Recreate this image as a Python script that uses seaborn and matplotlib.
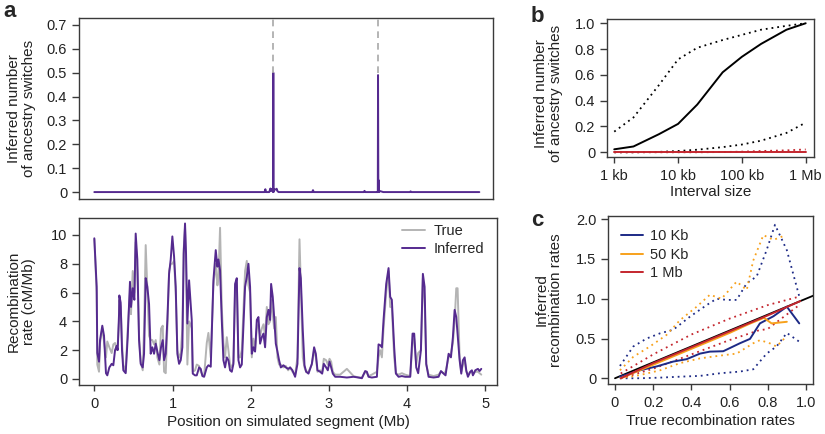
import numpy as np
import pandas as pd
import matplotlib
matplotlib.use("Agg")
import matplotlib.pyplot as plt
import seaborn as sns

# ---------------- data ----------------
# panel a (top): inferred number of ancestry switches along the segment
switch_pos = [0.0, 2.15, 2.18, 2.19, 2.20, 2.24, 2.255, 2.26, 2.27, 2.285, 2.29, 2.292, 2.295,
              2.30, 2.31, 2.33, 2.335, 2.345, 2.36, 2.70, 2.79, 2.80, 2.81, 3.45, 3.46, 3.47,
              3.62, 3.63, 3.633, 3.637, 3.64, 3.645, 3.66, 3.70, 4.04, 4.05, 4.06, 4.93]
switch_val = [0.0, 0.0, 0.0, 0.012, 0.0, 0.0, 0.015, 0.004, 0.012, 0.003, 0.0, 0.50, 0.0,
              0.012, 0.010, 0.012, 0.014, 0.004, 0.0, 0.0, 0.0, 0.008, 0.0, 0.0, 0.005, 0.0,
              0.0, 0.0, 0.49, 0.0, 0.05, 0.0, 0.004, 0.0, 0.0, 0.003, 0.0, 0.0]
true_switches = [2.292, 3.633]

# panel a (bottom): recombination rate (cM/Mb)
pos_mb = [0.000, 0.030, 0.038, 0.060, 0.073, 0.102, 0.124, 0.149, 0.166, 0.192, 0.222, 0.243,
          0.265, 0.286, 0.299, 0.316, 0.320, 0.337, 0.354, 0.371, 0.401, 0.427, 0.456, 0.469,
          0.491, 0.512, 0.529, 0.550, 0.572, 0.593, 0.619, 0.636, 0.657, 0.678, 0.700, 0.721,
          0.742, 0.764, 0.785, 0.806, 0.832, 0.853, 0.875, 0.892, 0.913, 0.934, 0.956, 0.977,
          0.998, 1.020, 1.041, 1.062, 1.084, 1.105, 1.126, 1.143, 1.160, 1.173, 1.190, 1.212,
          1.229, 1.246, 1.259, 1.288, 1.310, 1.340, 1.361, 1.382, 1.404, 1.438, 1.459, 1.489,
          1.523, 1.553, 1.574, 1.587, 1.608, 1.630, 1.651, 1.672, 1.694, 1.715, 1.736, 1.758,
          1.779, 1.800, 1.822, 1.843, 1.864, 1.886, 1.928, 1.950, 1.971, 1.992, 2.014, 2.035,
          2.056, 2.078, 2.099, 2.120, 2.142, 2.163, 2.184, 2.206, 2.227, 2.248, 2.261, 2.282,
          2.300, 2.321, 2.342, 2.363, 2.385, 2.419, 2.449, 2.479, 2.504, 2.534, 2.568, 2.598,
          2.624, 2.641, 2.666, 2.688, 2.709, 2.739, 2.782, 2.811, 2.833, 2.854, 2.888, 2.914,
          2.935, 2.965, 2.986, 3.008, 3.029, 3.050, 3.080, 3.144, 3.230, 3.315, 3.379, 3.422,
          3.464, 3.486, 3.507, 3.549, 3.614, 3.635, 3.656, 3.678, 3.699, 3.733, 3.763, 3.784,
          3.805, 3.835, 3.857, 3.891, 3.933, 3.976, 4.040, 4.070, 4.091, 4.117, 4.142, 4.177,
          4.202, 4.224, 4.245, 4.275, 4.339, 4.403, 4.433, 4.467, 4.492, 4.531, 4.561, 4.586,
          4.608, 4.629, 4.646, 4.672, 4.693, 4.714, 4.736, 4.757, 4.778, 4.808, 4.829, 4.842,
          4.872, 4.906, 4.927, 4.949]
rate_inferred = [9.77, 6.4, 1.8, 1.2, 2.7, 3.7, 3.0, 0.4, 0.25, 0.8, 1.05, 0.95,
                 2.0, 2.3, 2.0, 4.5, 5.8, 5.3, 2.0, 0.6, 0.4, 2.9, 6.75, 5.0,
                 6.3, 5.5, 10.1, 8.3, 2.7, 1.05, 0.8, 1.75, 7.0, 6.4, 5.2, 1.75,
                 2.2, 1.75, 2.45, 1.9, 1.3, 2.2, 2.7, 1.3, 1.75, 4.1, 7.3, 8.3,
                 9.9, 8.5, 6.4, 1.75, 1.05, 1.3, 2.2, 8.7, 10.8, 8.7, 3.85, 6.85,
                 5.5, 4.1, 0.37, 0.25, 0.25, 0.8, 0.7, 0.2, 0.15, 0.8, 0.95, 0.85,
                 6.85, 8.95, 7.8, 8.3, 7.55, 4.1, 1.3, 0.8, 1.5, 1.3, 0.6, 0.5,
                 1.05, 6.6, 7.0, 1.3, 0.8, 1.0, 6.4, 7.1, 8.0, 6.4, 1.75, 2.2,
                 1.9, 4.1, 4.3, 2.45, 2.9, 3.15, 2.2, 4.3, 4.8, 4.1, 6.6, 5.7,
                 4.3, 2.45, 1.9, 1.3, 0.8, 0.95, 0.8, 0.7, 0.8, 0.6, 0.15, 1.05,
                 7.7, 7.0, 3.4, 0.95, 0.5, 0.37, 1.05, 2.2, 1.75, 0.6, 0.5, 0.37,
                 1.05, 0.8, 0.6, 1.2, 0.8, 0.37, 0.15, 0.15, 0.1, 0.15, 0.1, 0.05,
                 0.55, 0.5, 0.15, 0.1, 0.15, 2.4, 2.35, 2.2, 4.1, 6.6, 7.7, 5.7,
                 5.5, 2.2, 0.37, 0.15, 0.2, 0.15, 0.15, 3.15, 3.15, 0.8, 0.4, 2.0,
                 7.3, 6.4, 1.05, 0.15, 0.1, 0.15, 0.55, 0.37, 0.25, 1.75, 1.5, 2.9,
                 4.8, 4.3, 3.15, 1.3, 0.37, 1.3, 1.5, 0.6, 0.15, 0.5, 0.6, 0.25,
                 0.6, 0.7, 0.55, 0.7]
rate_true = [9.7, 6.0, 1.0, 0.5, 2.5, 3.5, 2.6, 1.5, 2.6, 2.2, 1.8, 2.4,
             2.5, 2.0, 2.4, 4.0, 5.5, 5.0, 2.5, 1.0, 0.5, 3.5, 6.0, 4.5,
             7.5, 6.0, 9.5, 7.5, 3.0, 1.2, 0.6, 3.5, 9.3, 6.2, 3.0, 2.7,
             2.7, 2.4, 2.7, 1.5, 1.0, 3.5, 3.7, 0.5, 0.4, 3.5, 7.5, 8.0,
             8.0, 8.2, 6.0, 2.0, 1.5, 1.8, 3.5, 9.0, 10.5, 8.0, 1.0, 4.0,
             3.8, 3.5, 0.5, 0.6, 1.0, 0.9, 0.5, 0.3, 0.2, 2.5, 3.2, 1.5,
             6.5, 8.0, 6.5, 7.0, 10.5, 5.0, 2.5, 1.5, 2.9, 2.0, 1.0, 0.8,
             1.2, 6.0, 6.8, 1.5, 1.5, 2.0, 7.5, 8.2, 6.5, 6.0, 1.5, 2.8,
             2.0, 3.5, 3.8, 3.0, 3.5, 3.8, 3.0, 5.0, 3.8, 4.0, 5.5, 4.5,
             3.5, 4.3, 1.5, 1.0, 1.0, 0.8, 0.9, 0.6, 0.8, 0.5, 0.3, 1.5,
             9.7, 6.5, 1.5, 0.8, 0.5, 0.5, 1.0, 2.0, 1.5, 0.5, 0.6, 0.5,
             1.4, 1.3, 1.0, 1.4, 1.2, 0.5, 0.3, 0.3, 0.7, 0.2, 0.1, 0.1,
             0.5, 0.4, 0.2, 0.3, 0.5, 1.5, 2.0, 1.5, 3.5, 6.0, 7.5, 5.0,
             5.0, 1.5, 0.4, 0.3, 0.4, 0.3, 0.2, 2.5, 2.8, 1.0, 1.8, 2.0,
             7.0, 5.5, 1.0, 0.3, 0.2, 0.3, 0.5, 0.4, 0.5, 1.5, 1.8, 2.5,
             4.0, 6.3, 6.3, 1.5, 0.5, 1.0, 1.3, 0.5, 0.3, 0.5, 0.5, 0.3,
             0.5, 0.5, 0.4, 0.3]

# panel b: switches vs interval size (kb)
interval_kb = [1, 2, 5, 10, 20, 50, 100, 200, 500, 1000]
b_mean = [0.023, 0.045, 0.14, 0.22, 0.37, 0.62, 0.74, 0.84, 0.95, 1.0]
b_upper = [0.16, 0.27, 0.52, 0.72, 0.81, 0.87, 0.91, 0.95, 0.98, 1.0]
b_lower = [0.0, 0.0, 0.003, 0.01, 0.02, 0.04, 0.06, 0.09, 0.15, 0.23]
b_red_mean = [0.002, 0.002, 0.002, 0.002, 0.002, 0.002, 0.002, 0.002, 0.002, 0.002]
b_red_upper = [0.0, 0.0, 0.0, 0.0, 0.0, 0.002, 0.005, 0.01, 0.015, 0.022]

# panel c: inferred vs true recombination rates
diag_x = [0.0, 1.1]
c10_x = [0.026, 0.13, 0.22, 0.305, 0.375, 0.445, 0.497, 0.567, 0.654, 0.707, 0.759, 0.83, 0.9, 0.965]
c10_mean = [0.02, 0.10, 0.15, 0.21, 0.24, 0.31, 0.335, 0.34, 0.44, 0.495, 0.69, 0.78, 0.90, 0.69]
c10_up_x = [0.026, 0.096, 0.166, 0.236, 0.305, 0.393, 0.48, 0.532, 0.585, 0.637, 0.69, 0.742, 0.794, 0.838, 0.9, 0.965]
c10_up = [0.155, 0.40, 0.50, 0.565, 0.61, 0.775, 0.92, 1.0, 0.985, 0.985, 1.195, 1.28, 1.61, 1.93, 1.61, 1.03]
c10_lo_x = [0.026, 0.13, 0.236, 0.34, 0.445, 0.55, 0.654, 0.724, 0.794, 0.846, 0.9, 0.965]
c10_lo = [0.0, 0.0, 0.008, 0.02, 0.03, 0.063, 0.084, 0.113, 0.31, 0.40, 0.57, 0.46]
c50_x = [0.03, 0.2, 0.4, 0.6, 0.7, 0.78, 0.82, 0.9]
c50_mean = [0.0, 0.17, 0.37, 0.57, 0.68, 0.76, 0.69, 0.71]
c50_up_x = [0.026, 0.096, 0.183, 0.27, 0.34, 0.428, 0.497, 0.558, 0.637, 0.69, 0.724, 0.777, 0.83, 0.895]
c50_up = [0.10, 0.27, 0.40, 0.545, 0.73, 0.90, 1.05, 1.0, 1.215, 1.11, 1.48, 1.80, 1.74, 1.80]
c50_lo_x = [0.026, 0.13, 0.236, 0.34, 0.445, 0.567, 0.637, 0.724, 0.76, 0.81, 0.846, 0.895]
c50_lo = [0.0, 0.04, 0.10, 0.19, 0.25, 0.29, 0.31, 0.44, 0.48, 0.44, 0.40, 0.52]
c1m_x = [0.03, 0.2, 0.4, 0.6, 0.8, 0.97]
c1m_mean = [0.0, 0.19, 0.39, 0.59, 0.79, 0.97]
c1m_up_x = [0.03, 0.2, 0.4, 0.6, 0.8, 0.97]
c1m_up = [0.06, 0.30, 0.55, 0.75, 0.92, 1.03]
c1m_lo_x = [0.03, 0.2, 0.4, 0.6, 0.75, 0.8, 0.97]
c1m_lo = [0.0, 0.12, 0.30, 0.48, 0.60, 0.62, 0.93]

# ---------------- style ----------------
sns.set_theme(style="ticks")
plt.rcParams["font.family"] = ["Liberation Sans", "DejaVu Sans"]
plt.rcParams.update({
    "axes.edgecolor": "#3a3a3a", "axes.linewidth": 1.0,
    "xtick.color": "#3a3a3a", "ytick.color": "#3a3a3a",
    "xtick.labelcolor": "#222222", "ytick.labelcolor": "#222222",
    "xtick.major.size": 4.6, "ytick.major.size": 5,
    "xtick.major.width": 1.0, "ytick.major.width": 1.0,
    "xtick.major.pad": 4.0, "ytick.major.pad": 3.5,
    "xtick.labelsize": 10.5, "ytick.labelsize": 10.5,
    "axes.labelsize": 11, "axes.labelcolor": "#222222",
})

PURPLE = "#552a8f"
GRAY = "#b4b4b4"
NAVY = "#1d2a86"
ORANGE = "#f7a11c"
RED = "#c4262e"
DOT = (0, (1, 2.2))

fig = plt.figure(figsize=(8.25, 4.34), dpi=100)
W, H = 825.0, 434.0


def add_ax(l, t, r, b):
    return fig.add_axes([l / W, 1 - b / H, (r - l) / W, (b - t) / H])


def fmt(v, nd):
    return "0" if v == 0 else f"{v:.{nd}f}"


def line(ax, x, y, color, lw=1.4, ls="-", label=None):
    sns.lineplot(x=x, y=y, ax=ax, color=color, lw=lw, linestyle=ls,
                 estimator=None, sort=False, label=label, legend=False)


# ---- panel a top ----
ax1 = add_ax(79, 18, 493, 199)
line(ax1, switch_pos, switch_val, PURPLE, lw=1.4)
ax1.vlines(true_switches, 0.5, 0.73, colors="#a8a8a8", linestyles=(0, (4, 3)), lw=1.2)
ax1.set_xlim(-0.196, 5.105)
ax1.set_ylim(-0.029, 0.729)
ax1.set_xticks([])
yt = [0, 0.1, 0.2, 0.3, 0.4, 0.5, 0.6, 0.7]
ax1.set_yticks(yt, [fmt(v, 1) for v in yt])
ax1.set_xlabel("")
ax1.set_ylabel("Inferred number\nof ancestry switches", linespacing=1.05)
ax1.yaxis.set_label_coords(-0.104, 0.5)

# ---- panel a bottom ----
ax2 = add_ax(79, 218, 497, 385)
line(ax2, pos_mb, rate_true, GRAY, lw=1.4, label="True")
line(ax2, pos_mb, rate_inferred, PURPLE, lw=1.4, label="Inferred")
ax2.set_xlim(-0.196, 5.15)
ax2.set_ylim(-0.42, 11.18)
ax2.set_xticks([0, 1, 2, 3, 4, 5], ["0", "1", "2", "3", "4", "5"])
ax2.set_yticks([0, 2, 4, 6, 8, 10], ["0", "2", "4", "6", "8", "10"])
ax2.set_xlabel("Position on simulated segment (Mb)")
ax2.set_ylabel("Recombination\nrate (cM/Mb)", linespacing=1.05)
ax2.yaxis.set_label_coords(-0.104, 0.5)
ax2.xaxis.set_label_coords(0.5, -0.18)
ax2.legend(loc="upper right", bbox_to_anchor=(1.0, 1.04), frameon=False,
           fontsize=10.5, handlelength=1.6, handletextpad=0.55, labelspacing=0.25)

# ---- panel b ----
ax3 = add_ax(607, 19, 814, 157)
line(ax3, interval_kb, b_upper, "black", lw=1.3, ls=DOT)
line(ax3, interval_kb, b_lower, "black", lw=1.3, ls=DOT)
line(ax3, interval_kb, b_mean, "black", lw=1.4)
line(ax3, interval_kb, b_red_upper, RED, lw=1.3, ls=DOT)
line(ax3, interval_kb, b_red_mean, RED, lw=1.4)
ax3.set_xscale("log")
ax3.set_xlim(0.77, 1350)
ax3.set_ylim(-0.0365, 1.033)
ax3.set_xticks([1, 10, 100, 1000], ["1 kb", "10 kb", "100 kb", "1 Mb"])
ax3.xaxis.set_minor_locator(matplotlib.ticker.NullLocator())
yt = [0, 0.2, 0.4, 0.6, 0.8, 1.0]
ax3.set_yticks(yt, [fmt(v, 1) for v in yt])
ax3.set_xlabel("Interval size")
ax3.xaxis.set_label_coords(0.5, -0.2)
ax3.set_ylabel("Inferred number\nof ancestry switches", linespacing=1.05)
ax3.yaxis.set_label_coords(-0.213, 0.46)

# ---- panel c ----
ax4 = add_ax(608, 216, 813, 384)
line(ax4, diag_x, diag_x, "black", lw=1.3)
line(ax4, c10_up_x, c10_up, NAVY, lw=1.3, ls=DOT)
line(ax4, c10_lo_x, c10_lo, NAVY, lw=1.3, ls=DOT)
line(ax4, c50_up_x, c50_up, ORANGE, lw=1.3, ls=DOT)
line(ax4, c50_lo_x, c50_lo, ORANGE, lw=1.3, ls=DOT)
line(ax4, c1m_up_x, c1m_up, RED, lw=1.3, ls=DOT)
line(ax4, c1m_lo_x, c1m_lo, RED, lw=1.3, ls=DOT)
line(ax4, c10_x, c10_mean, NAVY, lw=1.4, label="10 Kb")
line(ax4, c50_x, c50_mean, ORANGE, lw=1.4, label="50 Kb")
line(ax4, c1m_x, c1m_mean, RED, lw=1.4, label="1 Mb")
ax4.set_xlim(-0.0366, 1.037)
ax4.set_ylim(-0.072, 2.04)
xt = [0, 0.2, 0.4, 0.6, 0.8, 1.0]
ax4.set_xticks(xt, [fmt(v, 1) for v in xt])
yt = [0, 0.5, 1.0, 1.5, 2.0]
ax4.set_yticks(yt, [fmt(v, 1) for v in yt])
ax4.set_xlabel("True recombination rates")
ax4.xaxis.set_label_coords(0.5, -0.18)
ax4.set_ylabel("Inferred\nrecombination rates", linespacing=1.05)
ax4.yaxis.set_label_coords(-0.22, 0.5)
h, l = ax4.get_legend_handles_labels()
ax4.legend(h[-3:], l[-3:], loc="upper left", bbox_to_anchor=(0.0, 1.0), frameon=False,
           fontsize=10.5, handlelength=1.5, handletextpad=0.5, labelspacing=0.32)

for ax in (ax1, ax2, ax3, ax4):
    for s in ax.spines.values():
        s.set_visible(True)

# panel letters
fig.text(3 / W, 1 - 1 / H, "a", fontsize=16, fontweight="bold", va="top", ha="left")
fig.text(531 / W, 1 - 6 / H, "b", fontsize=16, fontweight="bold", va="top", ha="left")
fig.text(531 / W, 1 - 210 / H, "c", fontsize=16, fontweight="bold", va="top", ha="left")

fig.savefig("out.png", dpi=100)
